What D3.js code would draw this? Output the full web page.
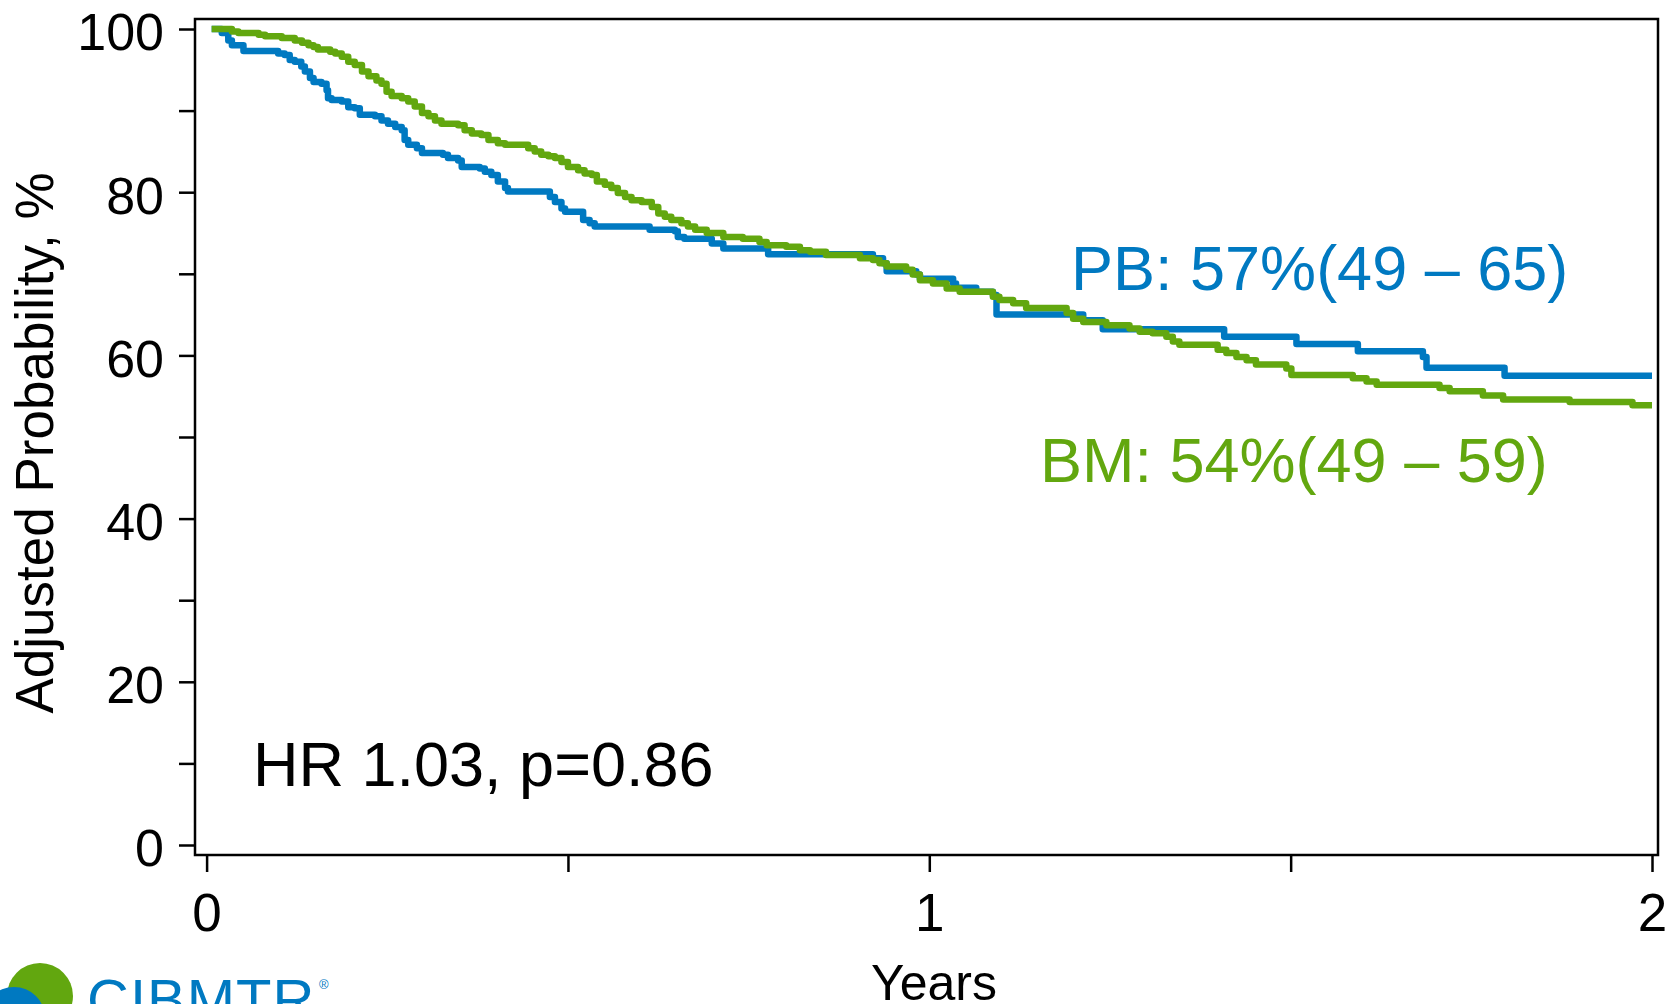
<!DOCTYPE html>
<html>
<head>
<meta charset="utf-8">
<script src="https://cdn.jsdelivr.net/npm/d3@7"></script>
<style>
    body { margin: 0; background: #fff; }
    svg { display: block; font-family: "Liberation Sans", Arial, sans-serif; }
</style>
</head>
<body>
<svg id="chart" width="1673" height="1004"></svg>
<script>
// step points: at time t (years) the curve drops to v (%)
var pbTime = [0.007, 0.021, 0.030, 0.035, 0.051, 0.099, 0.108, 0.115, 0.122, 0.131, 0.136, 0.143, 0.148, 0.159,
    0.166, 0.168, 0.173, 0.187, 0.196, 0.205, 0.212, 0.233, 0.242, 0.251, 0.261, 0.270, 0.274, 0.279, 0.291, 0.298,
    0.327, 0.334, 0.348, 0.353, 0.378, 0.385, 0.394, 0.403, 0.413, 0.417, 0.475, 0.482, 0.491, 0.496, 0.521, 0.530,
    0.537, 0.613, 0.648, 0.652, 0.661, 0.699, 0.715, 0.777, 0.922, 0.936, 0.941, 0.982, 0.987, 1.033, 1.037, 1.065,
    1.088, 1.093, 1.213, 1.240, 1.408, 1.508, 1.593, 1.683, 1.688, 1.796, 2.0];
var pbSurv = [100, 99.5, 98.6, 98.0, 97.3, 97.0, 96.8, 96.2, 96.0, 95.4, 94.8, 94.0, 93.5, 93.3,
    92.5, 91.5, 91.3, 91.1, 90.4, 90.3, 89.5, 89.3, 88.8, 88.4, 88.0, 87.6, 86.4, 85.8, 85.4, 84.8,
    84.6, 84.2, 83.9, 83.1, 82.9, 82.5, 82.1, 81.3, 80.5, 80.1, 79.4, 78.8, 78.0, 77.6, 76.6, 76.2,
    75.8, 75.4, 75.2, 74.5, 74.3, 73.7, 73.1, 72.4, 71.9, 71.3, 70.3, 69.9, 69.4, 68.8, 68.3, 67.8,
    67.4, 65.0, 64.3, 63.2, 62.3, 61.4, 60.5, 59.8, 58.5, 57.5, 57.5];

var bmTime = [0.007, 0.035, 0.044, 0.072, 0.081, 0.104, 0.122, 0.132, 0.141, 0.148, 0.154, 0.171, 0.178, 0.187,
    0.196, 0.205, 0.215, 0.224, 0.235, 0.242, 0.249, 0.256, 0.270, 0.279, 0.288, 0.298, 0.307, 0.316, 0.325, 0.348,
    0.357, 0.367, 0.380, 0.390, 0.403, 0.413, 0.445, 0.454, 0.463, 0.473, 0.482, 0.491, 0.500, 0.514, 0.523, 0.533,
    0.540, 0.551, 0.560, 0.569, 0.579, 0.588, 0.602, 0.616, 0.625, 0.634, 0.643, 0.657, 0.666, 0.676, 0.692, 0.715,
    0.742, 0.765, 0.775, 0.802, 0.821, 0.835, 0.857, 0.904, 0.922, 0.931, 0.941, 0.968, 0.977, 0.987, 1.005, 1.024,
    1.042, 1.088, 1.097, 1.116, 1.134, 1.190, 1.199, 1.213, 1.245, 1.277, 1.291, 1.309, 1.328, 1.337, 1.346, 1.399,
    1.411, 1.425, 1.439, 1.452, 1.494, 1.501, 1.586, 1.605, 1.619, 1.706, 1.720, 1.766, 1.794, 1.886, 1.973, 2.0];
var bmSurv = [100, 99.7, 99.5, 99.3, 99.1, 98.9, 98.6, 98.3, 98.0, 97.8, 97.5, 97.2, 97.0, 96.6,
    96.0, 95.6, 94.8, 94.2, 93.7, 93.3, 92.3, 91.8, 91.5, 91.1, 90.5, 89.7, 89.3, 88.8, 88.4, 88.2,
    87.6, 87.2, 87.0, 86.4, 86.0, 85.8, 85.4, 85.0, 84.6, 84.4, 84.2, 83.7, 83.1, 82.7, 82.3, 82.1,
    81.3, 80.9, 80.5, 79.9, 79.4, 79.0, 78.8, 78.2, 77.4, 77.0, 76.6, 76.2, 75.8, 75.4, 75.0, 74.5,
    74.3, 73.9, 73.5, 73.3, 72.9, 72.7, 72.3, 71.9, 71.7, 71.3, 70.9, 70.5, 69.9, 69.2, 68.8, 68.2,
    67.8, 67.2, 66.8, 66.4, 65.8, 65.2, 64.5, 64.1, 63.7, 63.3, 62.9, 62.7, 62.3, 61.7, 61.3, 60.7,
    60.3, 59.8, 59.4, 58.9, 58.4, 57.6, 57.2, 56.8, 56.4, 56.0, 55.6, 55.1, 54.6, 54.3, 53.9, 53.9];

var yTicks = [0, 10, 20, 30, 40, 50, 60, 70, 80, 90, 100];
var xTicks = [0, 0.5, 1, 1.5, 2];
var seriesNames = ["PB", "BM"];
var seriesLabels = ["PB: 57%(49 \u2013 65)", "BM: 54%(49 \u2013 59)"];
var hrLabel = "HR 1.03, p=0.86";

var BLUE = "#0079c1", GREEN = "#62a70f";

var box = {left: 195, right: 1658, top: 19, bottom: 855};
var svg = d3.select("#chart");

var x = d3.scaleLinear().domain([0, 2]).range([206.6, 1652]);
var y = d3.scaleLinear().domain([0, 100]).range([845, 29]);

// frame
svg.append("rect")
    .attr("x", box.left).attr("y", box.top)
    .attr("width", box.right - box.left).attr("height", box.bottom - box.top)
    .attr("fill", "none").attr("stroke", "#000").attr("stroke-width", 2.5);

var yAxis = svg.append("g")
    .attr("transform", "translate(" + box.left + ",0)")
    .call(d3.axisLeft(y).tickValues(yTicks).tickSize(16).tickPadding(15)
        .tickFormat(function(d) { return d % 20 === 0 ? d : ""; }));
yAxis.select(".domain").remove();
yAxis.selectAll("line").attr("stroke-width", 2.5);
yAxis.selectAll("text").attr("font-size", 52).attr("fill", "#000").attr("dy", "0.4em")
    .attr("font-family", "Liberation Sans, Arial, sans-serif");

var xAxis = svg.append("g")
    .attr("transform", "translate(0," + box.bottom + ")")
    .call(d3.axisBottom(x).tickValues(xTicks).tickSize(17)
        .tickFormat(function(d) { return d % 1 === 0 ? d : ""; }));
xAxis.select(".domain").remove();
xAxis.selectAll("line").attr("stroke-width", 2.5);
xAxis.selectAll("text").attr("font-size", 53).attr("fill", "#000").attr("y", 76).attr("dy", null)
    .attr("font-family", "Liberation Sans, Arial, sans-serif");

// axis titles
svg.append("text")
    .attr("transform", "translate(53,443) rotate(-90)")
    .attr("text-anchor", "middle")
    .attr("font-size", 53)
    .text("Adjusted Probability, %");

svg.append("text")
    .attr("x", 934).attr("y", 1000)
    .attr("text-anchor", "middle")
    .attr("font-size", 50)
    .text("Years");

// curves
var line = d3.line()
    .x(function(d) { return x(d.t); })
    .y(function(d) { return y(d.v); })
    .curve(d3.curveStepAfter);

var series = [
    {name: seriesNames[0], color: BLUE, pts: pbTime.map(function(t, i) { return {t: t, v: pbSurv[i]}; })},
    {name: seriesNames[1], color: GREEN, pts: bmTime.map(function(t, i) { return {t: t, v: bmSurv[i]}; })}
];

svg.selectAll("path.km")
    .data(series)
    .enter()
    .append("path")
    .attr("class", "km")
    .attr("d", function(d) { return line(d.pts); })
    .attr("fill", "none")
    .attr("stroke", function(d) { return d.color; })
    .attr("stroke-width", 6.5)
    .attr("stroke-linejoin", "round");

// labels
svg.append("text").attr("x", 1071).attr("y", 290).attr("font-size", 63).attr("fill", BLUE).text(seriesLabels[0]);
svg.append("text").attr("x", 1040).attr("y", 482).attr("font-size", 63).attr("fill", GREEN).text(seriesLabels[1]);
svg.append("text").attr("x", 253).attr("y", 786).attr("font-size", 63).attr("fill", "#000").text(hrLabel);

// logo, cut off by the bottom edge like in the original
var logo = svg.append("g");
logo.append("circle").attr("cx", 40).attr("cy", 996).attr("r", 33).attr("fill", GREEN);
logo.append("circle").attr("cx", 14).attr("cy", 1018).attr("r", 31).attr("fill", BLUE);
logo.append("text").attr("x", 87).attr("y", 1020).attr("font-size", 58).attr("letter-spacing", 1)
    .attr("fill", BLUE).text("CIBMTR");
logo.append("text").attr("x", 319).attr("y", 989).attr("font-size", 13).attr("fill", BLUE).text("\u00ae");
</script>
</body>
</html>
